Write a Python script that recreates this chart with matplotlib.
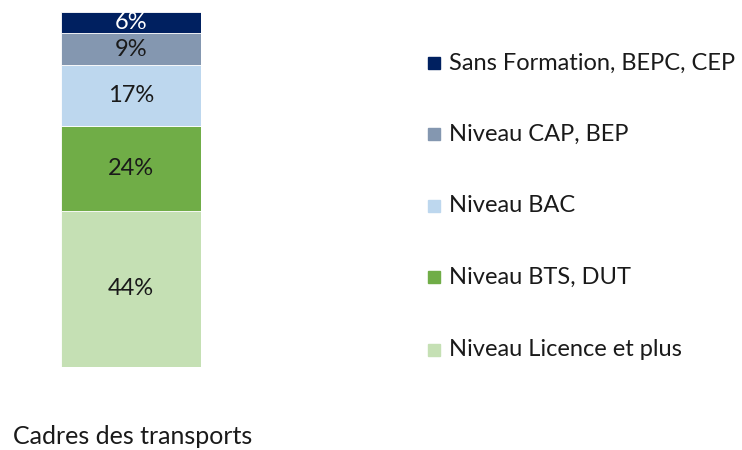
import matplotlib.pyplot as plt
from matplotlib.patches import Rectangle

# données (du bas vers le haut)
categories = ["Niveau Licence et plus", "Niveau BTS, DUT", "Niveau BAC",
              "Niveau CAP, BEP", "Sans Formation, BEPC, CEP"]
values = [44, 24, 17, 9, 6]
colors = ["#C5E0B4", "#70AD47", "#BDD7EE", "#8497B0", "#002060"]
label_colors = ["#1a1a1a", "#1a1a1a", "#1a1a1a", "#1a1a1a", "white"]
group_label = "Cadres des transports"

plt.rcParams["font.family"] = ["Lato", "DejaVu Sans"]

W, H = 742, 450
fig = plt.figure(figsize=(W / 100, H / 100), dpi=100)
ax = fig.add_axes([61 / W, (H - 367) / H, 140 / W, 355 / H])

bottom = 0
for v, c, lc in zip(values, colors, label_colors):
    ax.bar(0, v, bottom=bottom, width=1, color=c, edgecolor="white", linewidth=0.6)
    ax.text(0, bottom + v / 2, f"{v}%", ha="center", va="center",
            fontsize=17, color=lc)
    bottom += v
ax.set_xlim(-0.5, 0.5)
ax.set_ylim(0, sum(values))
ax.axis("off")

# légende (du haut vers le bas)
leg_y = [63, 134, 206, 277, 350]
for y, name, c in zip(leg_y, categories[::-1], colors[::-1]):
    fig.patches.append(Rectangle((428 / W, (H - y - 6) / H), 12 / W, 12 / H,
                                 transform=fig.transFigure, color=c))
    fig.text(449 / W, (H - y) / H, name, ha="left", va="center",
             fontsize=17, color="#1a1a1a")

fig.text(13 / W, (H - 437) / H, group_label, ha="left", va="center",
         fontsize=18, color="#1a1a1a")

fig.savefig("out.png", dpi=100)
